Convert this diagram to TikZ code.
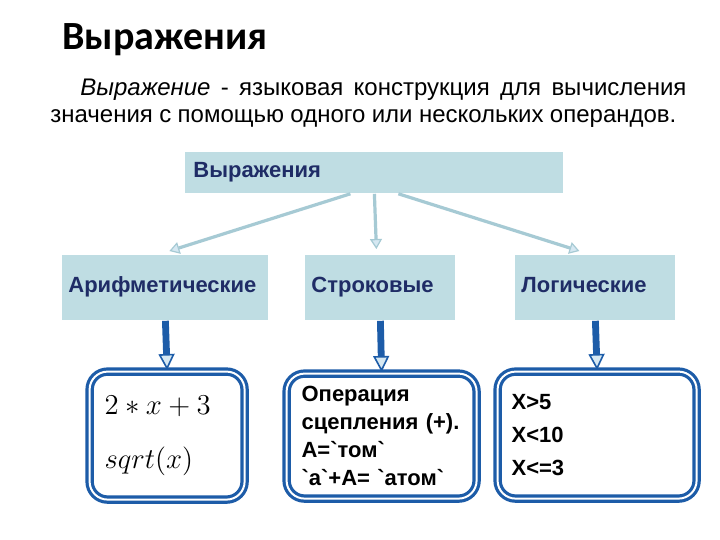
\documentclass[tikz,border=0pt]{standalone}
\usepackage{fontspec}
\setmainfont{Liberation Sans}
\newfontfamily\titlefont{Carlito}
\usetikzlibrary{arrows.meta,positioning}
\definecolor{Head}{HTML}{BFDDE3}
\definecolor{Navy}{HTML}{1F2C66}
\definecolor{Deep}{HTML}{1D5CA8}
\definecolor{Pale}{HTML}{A6CAD4}
\definecolor{PaleTip}{HTML}{D6E8F2}
\newcommand{\bq}{\textasciigrave}
\tikzset{
  kind/.style={fill=Head,minimum height=32.5pt,anchor=north west,align=left,font=\fontsize{11}{13}\selectfont\bfseries,text=Navy,inner xsep=3pt,text height=0.75em,text depth=0.25em},
  sample/.style={draw=Deep,double=white,double distance=1pt,line width=1.6pt,rounded corners=9pt,anchor=north west,align=left,text=black},
  lightarr/.style={-{Triangle[length=5pt,width=6pt,fill=PaleTip,line width=0.6pt]},draw=Pale,line width=1.6pt},
  downarr/.style={-{Triangle[length=8pt,width=8pt,fill=PaleTip,line width=0.8pt]},draw=Deep,line width=3.4pt}
}

\begin{document}
\begin{tikzpicture}[x=0.5pt,y=-0.5pt]
  \fill[white] (0,0) rectangle (720,540);
  \useasboundingbox (0,0) rectangle (720,540);
  % heading and definition
  \node[anchor=base west,inner sep=0pt,font=\titlefont\fontsize{20}{24}\selectfont\bfseries] (title) at (62,50) {Выражения};
  \node[anchor=base west,inner sep=0pt,font=\fontsize{12}{14}\selectfont] (defA) at (80,96) {\makebox[303pt][s]{\textit{Выражение} - языковая конструкция для вычисления}};
  \node[anchor=base west,inner sep=0pt,font=\fontsize{12}{14}\selectfont] (defB) at (50,123) {\makebox[313pt][s]{значения с помощью одного или нескольких операндов.}};
  % kinds
  \node[kind,text width=181pt,inner xsep=4pt,minimum height=20.5pt] (expr) at (185,152) {Выражения};
  \node[kind,text width=97pt] (arith) at (62,255) {Арифметические};
  \node[kind,text width=69pt] (str) at (305,255) {Строковые};
  \node[kind,text width=74pt] (logic) at (515,255) {Логические};
  \draw[lightarr] ([xshift=-12pt]expr.south) -- ([xshift=2pt,yshift=2pt]arith.north);
  \draw[lightarr] (expr.south) -- ([xshift=-2pt,yshift=3pt]str.north);
  \draw[lightarr] ([xshift=12pt]expr.south) -- ([xshift=-8pt,yshift=2pt]logic.north);
  % samples
  \node[sample,text width=62.5pt,minimum height=64pt,inner xsep=7.5pt,font=\fontsize{15}{27}\selectfont] (math) at (88,370) {$2*x+3$\\$sqrt(x)$};
  \node[sample,text width=80pt,minimum height=62.5pt,inner xsep=7.5pt,font=\fontsize{11}{14}\selectfont\bfseries] (concat) at (285,372) {Операция\\сцепления (+).\\A=\bq том\bq\\\bq а\bq+А= \bq атом\bq};
  \node[sample,text width=85.5pt,minimum height=63.5pt,inner xsep=7pt,font=\fontsize{11}{16.5}\selectfont\bfseries] (compare) at (496,370) {X>5\\X<10\\X<=3};
  \draw[downarr] (arith.south) -- (math.north);
  \draw[downarr] (str.south) -- (concat.north);
  \draw[downarr] (logic.south) -- (compare.north);
\end{tikzpicture}
\end{document}
